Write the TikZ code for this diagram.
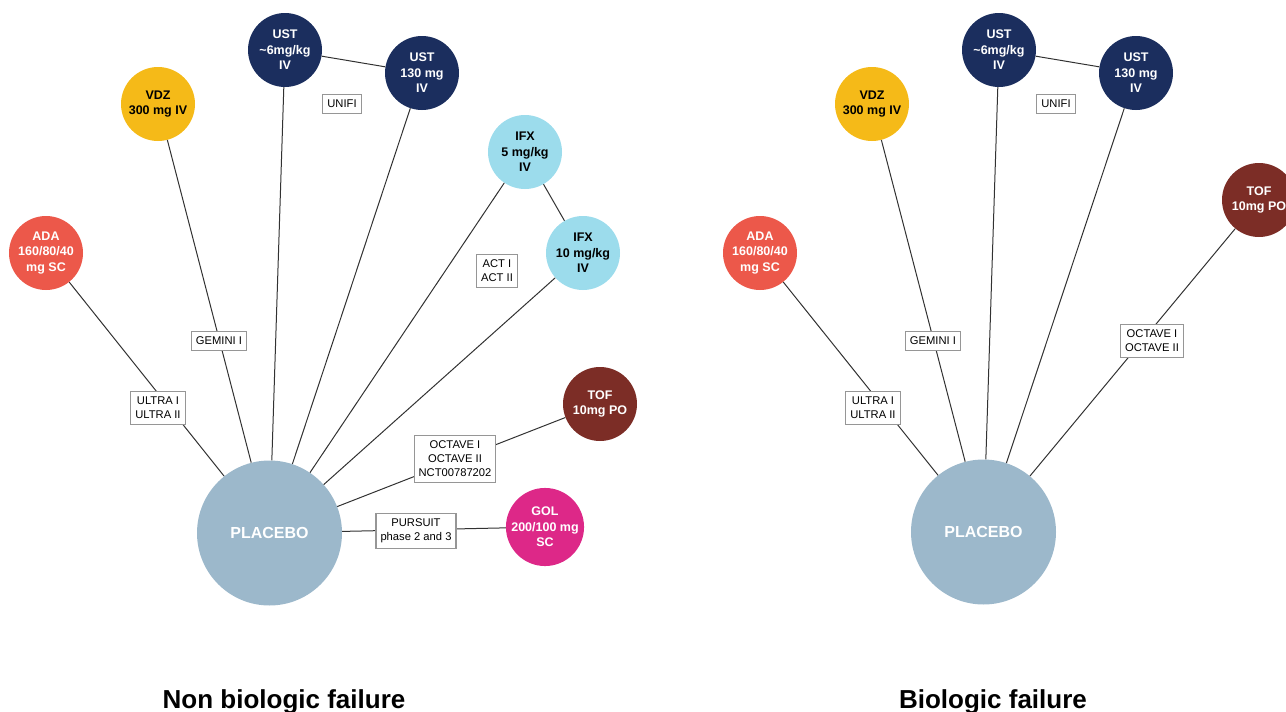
\documentclass[tikz,border=0pt]{standalone}
\usepackage{fontspec}
\setmainfont{Liberation Sans}
\definecolor{ustblue}{RGB}{27,46,94}
\definecolor{vdzyellow}{RGB}{245,186,24}
\definecolor{adared}{RGB}{236,88,74}
\definecolor{ifxblue}{RGB}{156,220,236}
\definecolor{tofbrown}{RGB}{124,45,38}
\definecolor{golpink}{RGB}{221,40,136}
\definecolor{placebo}{RGB}{156,184,203}
\definecolor{boxgray}{RGB}{150,150,150}
\definecolor{linegray}{RGB}{50,50,50}
\begin{document}
\begin{tikzpicture}[x=1pt,y=-1pt,
  drug/.style={circle, minimum size=74pt, inner sep=0pt, align=center,
    font=\fontsize{12.5}{15.5}\selectfont\bfseries, text=white},
  pbo/.style={circle, minimum size=145pt, inner sep=0pt, fill=placebo,
    font=\fontsize{16}{18}\selectfont\bfseries, text=white},
  trial/.style={draw=boxgray, line width=1.1pt, fill=white, align=center,
    font=\fontsize{11.2}{14}\selectfont, inner xsep=4.5pt, inner ysep=5.5pt},
  link/.style={draw=linegray, line width=1pt},
  heading/.style={anchor=base, font=\fontsize{26}{28}\selectfont\bfseries}]
\useasboundingbox (0,0) rectangle (1286,712);

% ---------- Non biologic failure ----------
\node[pbo] (p1) at (269.5,533) {PLACEBO};
\node[drug, fill=adared] (ada1) at (46,253) {ADA\\160/80/40\\mg SC};
\node[drug, fill=vdzyellow, text=black] (vdz1) at (158,104) {VDZ\\300 mg IV};
\node[drug, fill=ustblue] (ust6a) at (285,50) {UST\\\textasciitilde6mg/kg\\IV};
\node[drug, fill=ustblue] (ust130a) at (422,73) {UST\\130 mg\\IV};
\node[drug, fill=ifxblue, text=black] (ifx5) at (525,152) {IFX\\5 mg/kg\\IV};
\node[drug, fill=ifxblue, text=black] (ifx10) at (583,253) {IFX\\10 mg/kg\\IV};
\node[drug, fill=tofbrown] (tof1) at (600,404) {TOF\\10mg PO};
\node[drug, fill=golpink] (gol) at (545,527) {GOL\\200/100 mg\\SC};

\draw[link] (ada1) -- (p1);
\draw[link] (vdz1) -- (p1);
\draw[link] (ust6a) -- (p1);
\draw[link] (ust130a) -- (p1);
\draw[link] (ust6a) -- (ust130a);
\draw[link] (ifx5) -- (p1);
\draw[link] (ifx10) -- (p1);
\draw[link] (ifx5) -- (ifx10);
\draw[link] (tof1) -- (p1);
\draw[link] (gol) -- (p1);

\node[trial] (ultra1) at (158,408) {ULTRA I\\ULTRA II};
\node[trial] (gemini1) at (219,341) {GEMINI I};
\node[trial] (unifi1) at (342,104) {UNIFI};
\node[trial] (act) at (497,271) {ACT I\\ACT II};
\node[trial] (octave1) at (455,459) {OCTAVE I\\OCTAVE II\\NCT00787202};
\node[trial] (pursuit) at (416,531) {PURSUIT\\phase 2 and 3};

\node[heading] (t1) at (284,708) {Non biologic failure};

% ---------- Biologic failure ----------
\node[pbo] (p2) at (983.5,532) {PLACEBO};
\node[drug, fill=adared] (ada2) at (760,253) {ADA\\160/80/40\\mg SC};
\node[drug, fill=vdzyellow, text=black] (vdz2) at (872,104) {VDZ\\300 mg IV};
\node[drug, fill=ustblue] (ust6b) at (999,50) {UST\\\textasciitilde6mg/kg\\IV};
\node[drug, fill=ustblue] (ust130b) at (1136,73) {UST\\130 mg\\IV};
\node[drug, fill=tofbrown] (tof2) at (1259,200) {TOF\\10mg PO};

\draw[link] (ada2) -- (p2);
\draw[link] (vdz2) -- (p2);
\draw[link] (ust6b) -- (p2);
\draw[link] (ust130b) -- (p2);
\draw[link] (ust6b) -- (ust130b);
\draw[link] (tof2) -- (p2);

\node[trial] (ultra2) at (873,408) {ULTRA I\\ULTRA II};
\node[trial] (gemini2) at (933,341) {GEMINI I};
\node[trial] (unifi2) at (1056,104) {UNIFI};
\node[trial] (octave2) at (1152,341) {OCTAVE I\\OCTAVE II};

\node[heading] (t2) at (993,708) {Biologic failure};
\end{tikzpicture}
\end{document}
